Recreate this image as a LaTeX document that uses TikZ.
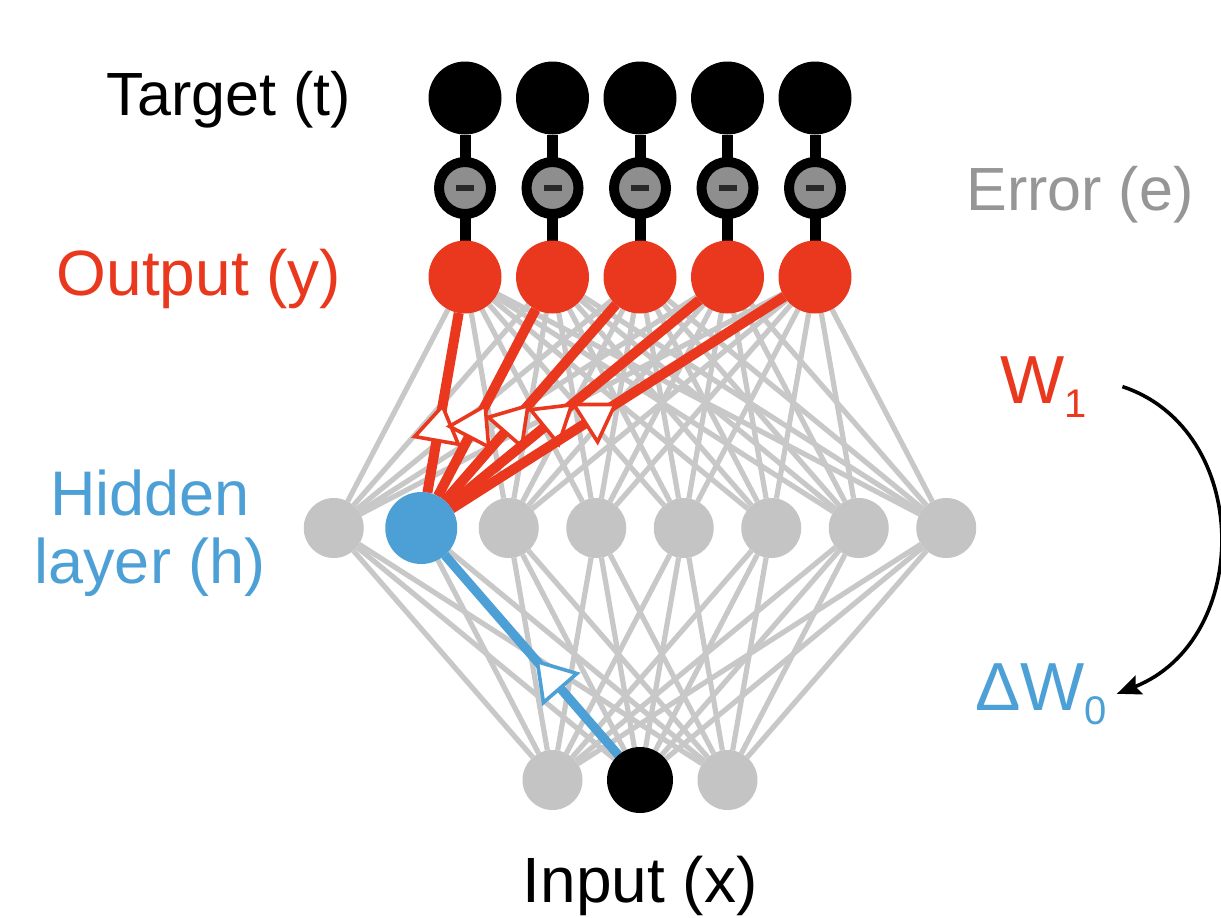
\documentclass[tikz,border=0pt]{standalone}
\usepackage{fontspec}
\setmainfont{Liberation Sans}
\usetikzlibrary{arrows.meta,decorations.markings}

\definecolor{outred}{RGB}{233,56,30}
\definecolor{hidblue}{RGB}{76,160,214}
\definecolor{nodegray}{RGB}{196,196,196}
\definecolor{wiregray}{RGB}{200,200,200}
\definecolor{errgray}{RGB}{150,150,150}
\definecolor{errfill}{RGB}{142,142,142}
\definecolor{minusdark}{RGB}{40,40,40}

\pgfdeclarelayer{wires}
\pgfdeclarelayer{paths}
\pgfsetlayers{wires,paths,main}

\newcommand\lowidx[1]{\raisebox{-7pt}{\fontsize{20}{20}\selectfont #1}}
\newcommand\minusbar{{\color{minusdark}\rule{9pt}{3.2pt}}}

\begin{document}
\begin{tikzpicture}[x=0.5pt,y=-0.5pt,
  unit/.style={circle,inner sep=0pt,outer sep=0pt},
  targetnode/.style={unit,fill=black,minimum size=36.5pt},
  errnode/.style={unit,fill=errfill,draw=black,line width=5pt,minimum size=26pt},
  outnode/.style={unit,fill=outred,minimum size=36.5pt},
  hidnode/.style={unit,fill=nodegray,minimum size=30pt},
  hidsel/.style={unit,fill=hidblue,minimum size=36pt},
  innode/.style={unit,fill=nodegray,minimum size=30pt},
  insel/.style={unit,fill=black,minimum size=33pt},
  wire/.style={draw=wiregray,line width=2.6pt},
  link/.style={draw=black,line width=5.5pt},
  redpath/.style={draw=outred,line width=5pt,
    postaction={decorate,decoration={markings,
      mark=at position 0.5 with {\arrow{Triangle[open,fill=white,length=20pt,width=25pt,line width=1.8pt]}}}}},
  bluepath/.style={draw=hidblue,line width=4.6pt,
    postaction={decorate,decoration={markings,
      mark=at position 0.48 with {\arrow{Triangle[open,fill=white,length=20pt,width=25pt,line width=1.8pt]}}}}},
  lbl/.style={inner sep=0pt,outer sep=0pt},
  cyclearrow/.style={draw=black,line width=1.8pt,-{Stealth[length=12pt,width=10pt,inset=2pt]}}
]
\useasboundingbox (0,0) rectangle (1221,917);

% target, error and output columns
\foreach \i/\x in {1/465,2/552.5,3/640,4/727.5,5/815} {
  \node[targetnode] (t\i) at (\x,98) {};
  \node[errnode] (e\i) at (\x,188) {\minusbar};
  \node[outnode] (o\i) at (\x,277) {};
}

% hidden layer
\foreach \i/\x/\s in {1/333.75/hidnode,2/421.25/hidsel,3/508.75/hidnode,4/596.25/hidnode,
                      5/683.75/hidnode,6/771.25/hidnode,7/858.75/hidnode,8/946.25/hidnode} {
  \node[\s] (h\i) at (\x,528) {};
}

% input layer
\node[innode] (i1) at (552.5,780) {};
\node[insel]  (i2) at (640,780) {};
\node[innode] (i3) at (727.5,780) {};

% full connectivity in gray, plus the target/error/output stems
\begin{pgfonlayer}{wires}
  \foreach \h in {1,...,8} {
    \foreach \o in {1,...,5} { \draw[wire] (h\h) -- (o\o); }
    \foreach \n in {1,2,3} { \draw[wire] (i\n) -- (h\h); }
  }
  \foreach \k in {1,...,5} {
    \draw[link] (t\k) -- (e\k);
    \draw[link] (e\k) -- (o\k);
  }
\end{pgfonlayer}

% forward paths through the selected hidden unit
\begin{pgfonlayer}{paths}
  \foreach \o in {1,...,5} { \draw[redpath] (h2) -- (o\o); }
  \draw[bluepath] (i2) -- (h2);
\end{pgfonlayer}

% labels
\node[lbl,anchor=base,font=\fontsize{30.5}{34}\selectfont] (tlab) at (229,115) {Target (t)};
\node[lbl,anchor=base,text=outred,font=\fontsize{32}{34}\selectfont] (olab) at (199,295) {Output (y)};
\node[lbl,anchor=base,text=errgray,font=\fontsize{30.5}{34}\selectfont] (elab) at (1080,210) {Error (e)};
\node[lbl,anchor=base,align=center,text=hidblue,font=\fontsize{31.5}{34}\selectfont] (hlab) at (150,583) {Hidden\\layer (h)};
\node[lbl,anchor=base,font=\fontsize{32}{34}\selectfont] (ilab) at (640,902) {Input (x)};
\node[lbl,anchor=base west,text=outred,font=\fontsize{34}{36}\selectfont] (w1) at (1000,403) {W\lowidx{1}};
\node[lbl,anchor=base west,text=hidblue,font=\fontsize{34}{36}\selectfont] (dw0) at (975,710) {ΔW\lowidx{0}};

% weight update arrow
\draw[cyclearrow] ([xshift=18pt]w1.east) .. controls (1253,430) and (1253,640) .. ([xshift=5pt]dw0.east);
\end{tikzpicture}
\end{document}
